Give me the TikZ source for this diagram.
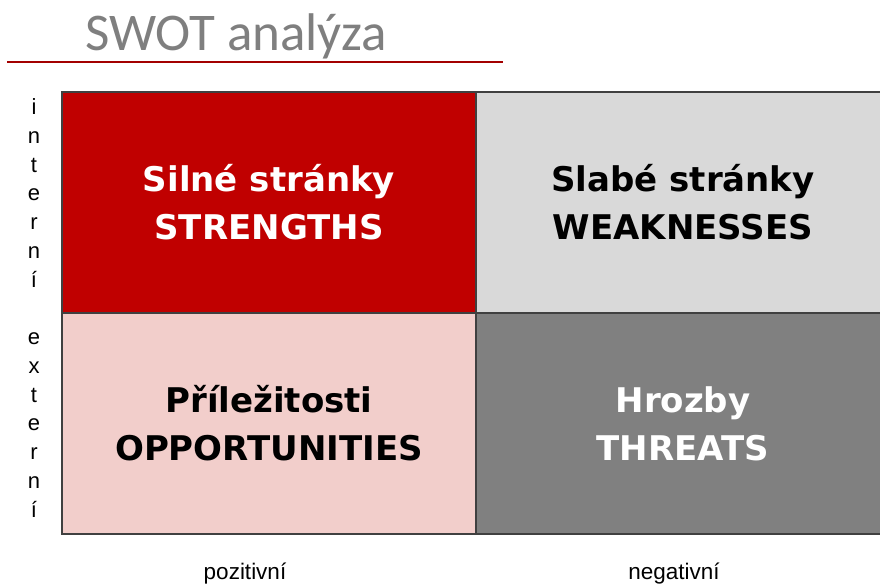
\documentclass[tikz,border=0pt]{standalone}
\usepackage{fontspec}
\setmainfont{Liberation Sans}
\newfontfamily\titlefont{Carlito}
\newfontfamily\cellfont{DejaVu Sans}
\definecolor{swotred}{RGB}{192,0,0}
\definecolor{swotpink}{RGB}{242,206,203}
\definecolor{swotlight}{RGB}{217,217,217}
\definecolor{swotdark}{RGB}{128,128,128}
\definecolor{titlegray}{RGB}{127,127,127}
\tikzstyle{cell}=[draw=black!75,line width=1.2pt,minimum width=414pt,minimum height=221pt,inner sep=0pt,align=center,font=\cellfont\bfseries\fontsize{34}{48}\selectfont]
\tikzstyle{side}=[align=center,inner sep=0pt,font=\fontsize{22}{28.8}\selectfont]
\tikzstyle{axis}=[anchor=base,inner sep=0pt,font=\fontsize{22.5}{26}\selectfont]

\begin{document}
\begin{tikzpicture}[x=1pt,y=-1pt]
\useasboundingbox (0,0) rectangle (880,585);
\node[anchor=base west,inner sep=0pt,text=titlegray,font=\titlefont\fontsize{53}{60}\selectfont] (title) at (85,51) {SWOT analýza};
\coordinate (l1) at (7,62);
\coordinate (l2) at (503,62);
\draw[swotred!85!black,line width=2pt] (l1) -- (l2);
\node[cell,fill=swotred,text=white] (S) at (269,202.5) {Silné stránky\\STRENGTHS};
\node[cell,fill=swotlight] (W) at (683,202.5) {Slabé stránky\\WEAKNESSES};
\node[cell,fill=swotpink] (O) at (269,423.5) {Příležitosti\\OPPORTUNITIES};
\node[cell,fill=swotdark,text=white] (T) at (683,423.5) {Hrozby\\THREATS};
\node[side] (int) at (34,193) {i\\n\\t\\e\\r\\n\\í};
\node[side] (ext) at (34,425) {e\\x\\t\\e\\r\\n\\í};
\node[axis] (poz) at (245,579) {pozitivní};
\node[axis] (neg) at (674,579) {negativní};
\end{tikzpicture}
\end{document}
